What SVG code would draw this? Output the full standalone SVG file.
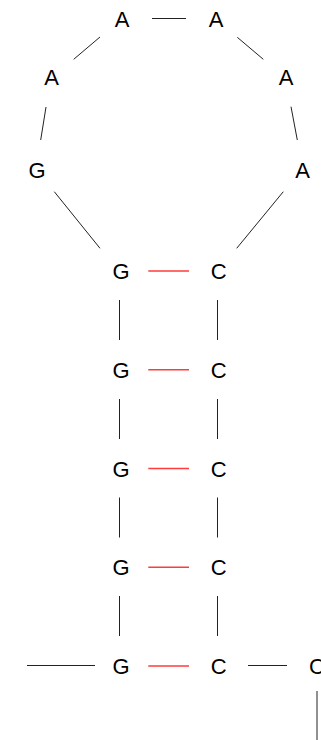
<svg xmlns="http://www.w3.org/2000/svg" width="321" height="740" viewBox="0 0 321 740">
<style>
text{font-family:"Liberation Sans",Arial,sans-serif;font-size:22px;fill:#000;text-anchor:middle}
.bb{stroke:#222;stroke-width:1;fill:none}
.bp{stroke:#ff3b3b;stroke-width:1.6;fill:none}
</style>
<rect width="321" height="740" fill="#fff"/>
<g id="connectors">
<line class="bb" x1="152" y1="18.5" x2="186" y2="18.5"/>
<line class="bb" x1="100" y1="37" x2="73.7" y2="59.3"/>
<line class="bb" x1="46" y1="107" x2="40.7" y2="140"/>
<line class="bb" x1="54.3" y1="191.7" x2="100" y2="248.3"/>
<line class="bb" x1="237.3" y1="37.3" x2="263.3" y2="59.3"/>
<line class="bb" x1="291" y1="106.7" x2="297.3" y2="140"/>
<line class="bb" x1="283.3" y1="191.7" x2="236.7" y2="248.3"/>
<line class="bb" x1="119.5" y1="300" x2="119.5" y2="340"/>
<line class="bb" x1="217.5" y1="300" x2="217.5" y2="340"/>
<line class="bb" x1="119.5" y1="399" x2="119.5" y2="439"/>
<line class="bb" x1="217.5" y1="399" x2="217.5" y2="439"/>
<line class="bb" x1="119.5" y1="497.5" x2="119.5" y2="537.5"/>
<line class="bb" x1="217.5" y1="497.5" x2="217.5" y2="537.5"/>
<line class="bb" x1="119.5" y1="596" x2="119.5" y2="636"/>
<line class="bb" x1="217.5" y1="596" x2="217.5" y2="636"/>
<line class="bb" x1="27" y1="665.5" x2="95" y2="665.5"/>
<line class="bb" x1="248" y1="665.5" x2="287" y2="665.5"/>
<line class="bb" x1="317" y1="691" x2="317" y2="740"/>
<line class="bp" x1="148.3" y1="271" x2="189" y2="271"/>
<line class="bp" x1="148.3" y1="369.8" x2="189" y2="369.8"/>
<line class="bp" x1="148.3" y1="468.5" x2="189" y2="468.5"/>
<line class="bp" x1="148.3" y1="567.2" x2="189" y2="567.2"/>
<line class="bp" x1="148.3" y1="666" x2="189" y2="666"/>
</g>
<g id="n1"><text x="122" y="27">A</text></g>
<g id="n2"><text x="216" y="27">A</text></g>
<g id="n3"><text x="51.5" y="85">A</text></g>
<g id="n4"><text x="286" y="85">A</text></g>
<g id="n5"><text x="37" y="178">G</text></g>
<g id="n6"><text x="302.5" y="178">A</text></g>
<g id="n7"><text x="121" y="279">G</text></g>
<g id="n8"><text x="218.7" y="279">C</text></g>
<g id="n9"><text x="121" y="378">G</text></g>
<g id="n10"><text x="218.7" y="378">C</text></g>
<g id="n11"><text x="121" y="476.5">G</text></g>
<g id="n12"><text x="218.7" y="476.5">C</text></g>
<g id="n13"><text x="121" y="575.3">G</text></g>
<g id="n14"><text x="218.7" y="575.3">C</text></g>
<g id="n15"><text x="121" y="674">G</text></g>
<g id="n16"><text x="218.7" y="674">C</text></g>
<g id="n17"><text x="317" y="674">C</text></g>
</svg>
